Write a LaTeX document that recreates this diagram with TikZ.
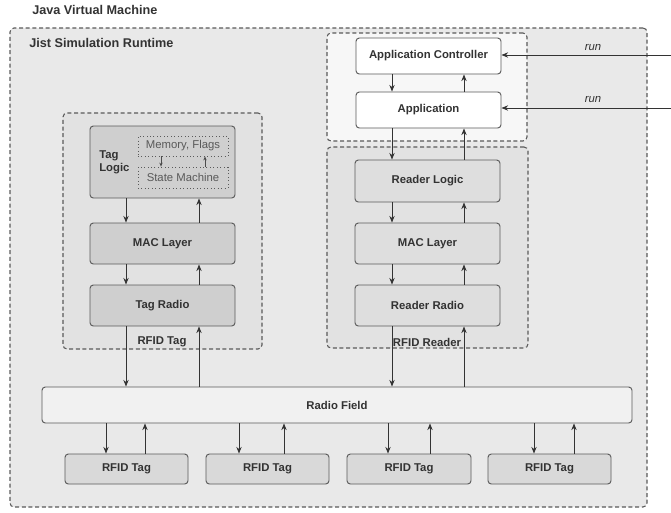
\documentclass[tikz,border=0pt]{standalone}
\usepackage{fontspec}
\setmainfont{Liberation Sans}
\usetikzlibrary{arrows.meta,fit}
\definecolor{outerfill}{HTML}{E9E9E9}
\definecolor{grpfill}{HTML}{E2E2E2}
\definecolor{appgrpfill}{HTML}{F7F7F7}
\definecolor{tagfill}{HTML}{CFCFCF}
\definecolor{rdrfill}{HTML}{DEDEDE}
\definecolor{fieldfill}{HTML}{F1F1F1}
\definecolor{smallfill}{HTML}{D9D9D9}
\definecolor{edge}{HTML}{5A5A5A}
\definecolor{txt}{HTML}{333333}
\tikzset{
  grp/.style={draw=edge, line width=0.8pt, dash pattern=on 3pt off 2pt, rounded corners=3pt, inner sep=0pt},
  box/.style={draw=edge, line width=0.7pt, rounded corners=2.5pt, inner sep=0pt},
  dotbox/.style={draw=edge, line width=0.6pt, dotted, inner sep=0pt},
  lbl/.style={font=\fontsize{8.5}{10}\selectfont\bfseries, text=txt, inner sep=0pt},
  dlbl/.style={font=\fontsize{8.5}{10}\selectfont, text=black!65, inner sep=0pt},
  head/.style={font=\fontsize{9.5}{11}\selectfont\bfseries, text=txt, inner sep=0pt, anchor=west},
  runlbl/.style={font=\fontsize{8.5}{10}\selectfont\itshape, text=txt, inner sep=0pt},
  arr/.style={-{Stealth[length=5pt,width=4pt]}, line width=0.7pt, draw=black!80},
  sarr/.style={-{Stealth[length=3pt,width=2.5pt]}, line width=0.5pt, draw=black!70},
}
\begin{document}
\begin{tikzpicture}[x=0.75pt,y=-0.75pt]
\useasboundingbox (0,0) rectangle (671,512);
% containers
\node[grp, fill=outerfill, fit={(10,28) (647,507)}] (outer) {};
\node[head] (jvm) at (32,10) {Java Virtual Machine};
\node[head] (jsr) at (29,43) {Jist Simulation Runtime};
\node[grp, fill=appgrpfill, fit={(327,33) (527,141)}] (appgrp) {};
\node[grp, fill=grpfill, fit={(327,147) (528,348)}] (rdrgrp) {};
\node[grp, fill=grpfill, fit={(63,113) (262,349)}] (taggrp) {};
% application
\node[box, fill=white, fit={(356,38) (501,74)}, label={[lbl]center:Application Controller}] (appctl) {};
\node[box, fill=white, fit={(356,92) (501,128)}, label={[lbl]center:Application}] (app) {};
% reader
\node[box, fill=rdrfill, fit={(355,160) (500,202)}, label={[lbl]center:Reader Logic}] (rlogic) {};
\node[box, fill=rdrfill, fit={(355,223) (500,264)}, label={[lbl]center:MAC Layer}] (rmac) {};
\node[box, fill=rdrfill, fit={(355,285) (500,326)}, label={[lbl]center:Reader Radio}] (rradio) {};
% tag
\node[box, fill=tagfill, fit={(90,126) (235,198)}] (tlogic) {};
\node[lbl, anchor=west, align=left] (tlogiclbl) at (99,162) {Tag\\Logic};
\node[dotbox, fit={(138,136) (228,156)}, label={[dlbl]center:Memory, Flags}] (mem) {};
\node[dotbox, fit={(138,167) (228,188)}, label={[dlbl]center:State Machine}] (sm) {};
\node[box, fill=tagfill, fit={(90,223) (235,264)}, label={[lbl]center:MAC Layer}] (tmac) {};
\node[box, fill=tagfill, fit={(90,285) (235,326)}, label={[lbl]center:Tag Radio}] (tradio) {};
% radio field and tags
\node[box, fill=fieldfill, fit={(42,387) (632,423)}, label={[lbl]center:Radio Field}] (field) {};
\node[box, fill=smallfill, fit={(65,454) (188,484)}, label={[lbl]center:RFID Tag}] (t1) {};
\node[box, fill=smallfill, fit={(206,454) (329,484)}, label={[lbl]center:RFID Tag}] (t2) {};
\node[box, fill=smallfill, fit={(347,454) (471,484)}, label={[lbl]center:RFID Tag}] (t3) {};
\node[box, fill=smallfill, fit={(488,454) (611,484)}, label={[lbl]center:RFID Tag}] (t4) {};
% x positions
\coordinate (rd) at (392,0);
\coordinate (ru) at (464,0);
\coordinate (td) at (126,0);
\coordinate (tu) at (199,0);
\coordinate (md) at (161,0);
\coordinate (mu) at (205,0);
% application arrows
\draw[arr] (appctl.south -| rd) -- (app.north -| rd);
\draw[arr] (app.north -| ru) -- (appctl.south -| ru);
\draw[arr] (app.south -| rd) -- (rlogic.north -| rd);
\draw[arr] (rlogic.north -| ru) -- (app.south -| ru);
\draw[arr] (rlogic.south -| rd) -- (rmac.north -| rd);
\draw[arr] (rmac.north -| ru) -- (rlogic.south -| ru);
\draw[arr] (rmac.south -| rd) -- (rradio.north -| rd);
\draw[arr] (rradio.north -| ru) -- (rmac.south -| ru);
\draw[arr] (rradio.south -| rd) -- (field.north -| rd);
\draw[arr] (field.north -| ru) -- (rradio.south -| ru);
% tag arrows
\draw[sarr] (mem.south -| md) -- (sm.north -| md);
\draw[sarr] (sm.north -| mu) -- (mem.south -| mu);
\draw[arr] (tlogic.south -| td) -- (tmac.north -| td);
\draw[arr] (tmac.north -| tu) -- (tlogic.south -| tu);
\draw[arr] (tmac.south -| td) -- (tradio.north -| td);
\draw[arr] (tradio.north -| tu) -- (tmac.south -| tu);
\draw[arr] (tradio.south -| td) -- (field.north -| td);
\draw[arr] (field.north -| tu) -- (tradio.south -| tu);
% group labels (drawn over connectors, as in the reference)
\node[lbl] (rdrlbl) at (427,342) {RFID Reader};
\node[lbl] (taglbl) at (162,342) {RFID Tag};
% field to tags
\foreach \t/\d/\u in {t1/106/145, t2/239/284, t3/388/430, t4/534/574}{
  \draw[arr] (field.south -| \d,0) -- (\t.north -| \d,0);
  \draw[arr] (\t.north -| \u,0) -- (field.south -| \u,0);
}
% run arrows
\coordinate (run1) at (671,55);
\coordinate (run2) at (671,108);
\draw[arr] (run1) -- (appctl.east |- run1);
\draw[arr] (run2) -- (app.east |- run2);
\node[runlbl] (runlbl1) at (593,47) {run};
\node[runlbl] (runlbl2) at (593,99) {run};
\end{tikzpicture}
\end{document}
